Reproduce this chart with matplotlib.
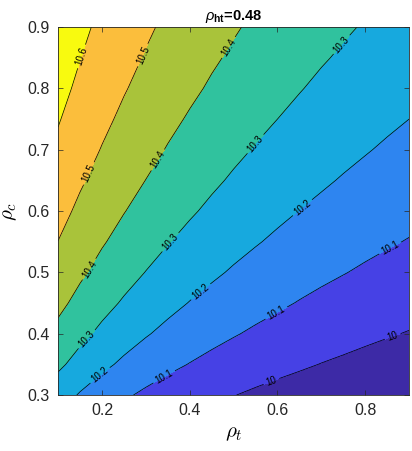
import matplotlib
matplotlib.use('Agg')
import matplotlib.pyplot as plt
import numpy as np

# values
rho_t = [0.1, 0.15, 0.2, 0.25, 0.3, 0.35, 0.4, 0.45, 0.5,
         0.55, 0.6, 0.65, 0.7, 0.75, 0.8, 0.85, 0.9]
rho_c = [0.3, 0.35, 0.4, 0.45, 0.5, 0.55, 0.6, 0.65, 0.7, 0.75, 0.8, 0.85, 0.9]
Z = [
    [10.245, 10.192, 10.149, 10.113, 10.083, 10.058, 10.037, 10.018, 10.002, 9.987, 9.974, 9.962, 9.951, 9.941, 9.932, 9.924, 9.916],
    [10.318, 10.266, 10.221, 10.183, 10.150, 10.121, 10.097, 10.075, 10.056, 10.039, 10.024, 10.011, 9.998, 9.987, 9.976, 9.966, 9.957],
    [10.375, 10.324, 10.280, 10.241, 10.207, 10.177, 10.150, 10.127, 10.106, 10.087, 10.070, 10.055, 10.041, 10.029, 10.017, 10.006, 9.996],
    [10.423, 10.373, 10.329, 10.290, 10.256, 10.225, 10.197, 10.173, 10.151, 10.131, 10.113, 10.096, 10.081, 10.067, 10.054, 10.043, 10.032],
    [10.463, 10.415, 10.371, 10.333, 10.298, 10.267, 10.239, 10.214, 10.191, 10.170, 10.151, 10.133, 10.117, 10.103, 10.089, 10.076, 10.065],
    [10.499, 10.450, 10.408, 10.370, 10.336, 10.304, 10.276, 10.250, 10.227, 10.206, 10.186, 10.168, 10.151, 10.136, 10.121, 10.108, 10.096],
    [10.530, 10.482, 10.440, 10.403, 10.369, 10.338, 10.310, 10.284, 10.260, 10.238, 10.218, 10.199, 10.182, 10.166, 10.151, 10.137, 10.124],
    [10.558, 10.511, 10.469, 10.432, 10.399, 10.368, 10.340, 10.314, 10.290, 10.268, 10.247, 10.228, 10.211, 10.194, 10.179, 10.165, 10.151],
    [10.583, 10.537, 10.496, 10.459, 10.426, 10.395, 10.367, 10.341, 10.317, 10.295, 10.274, 10.255, 10.237, 10.221, 10.205, 10.190, 10.177],
    [10.606, 10.560, 10.520, 10.483, 10.450, 10.420, 10.392, 10.367, 10.343, 10.320, 10.300, 10.280, 10.262, 10.245, 10.229, 10.214, 10.200],
    [10.628, 10.582, 10.542, 10.506, 10.473, 10.443, 10.416, 10.390, 10.366, 10.344, 10.323, 10.304, 10.285, 10.268, 10.252, 10.237, 10.223],
    [10.648, 10.602, 10.562, 10.526, 10.494, 10.464, 10.437, 10.411, 10.388, 10.366, 10.345, 10.325, 10.307, 10.290, 10.273, 10.258, 10.244],
    [10.666, 10.620, 10.581, 10.545, 10.513, 10.484, 10.457, 10.432, 10.408, 10.386, 10.365, 10.346, 10.327, 10.310, 10.294, 10.278, 10.264],
]
levels = [10.0, 10.1, 10.2, 10.3, 10.4, 10.5, 10.6]
fill_levels = [9.8] + levels + [10.8]
band_colors = ['#3d2aa6', '#4641e5', '#2e85f0', '#17a9de',
               '#30c29e', '#a9c33a', '#fbbe3c', '#f8fa0f']

# where the labels sit on the lines
label_pos = [(0.154, 0.852), (0.294, 0.854), (0.171, 0.661),
             (0.488, 0.867), (0.326, 0.684), (0.169, 0.506),
             (0.747, 0.871), (0.549, 0.710), (0.355, 0.550), (0.164, 0.392),
             (0.652, 0.610), (0.422, 0.471), (0.196, 0.332),
             (0.857, 0.539), (0.598, 0.433), (0.344, 0.327),
             (0.863, 0.395), (0.587, 0.321)]

plt.rcParams['font.family'] = ['Liberation Sans', 'DejaVu Sans']
plt.rcParams['mathtext.fontset'] = 'custom'
plt.rcParams['mathtext.rm'] = 'Liberation Sans'
plt.rcParams['mathtext.it'] = 'Liberation Sans:italic'
plt.rcParams['mathtext.bf'] = 'Liberation Sans:bold'

fig = plt.figure(figsize=(4.12, 4.51), dpi=100)
ax = fig.add_axes([0.141, 0.124, 0.852, 0.816])

X, Y = np.meshgrid(rho_t, rho_c)
Z = np.array(Z)
ax.contourf(X, Y, Z, levels=fill_levels, colors=band_colors)
cs = ax.contour(X, Y, Z, levels=levels, colors='k', linewidths=0.5)
ax.clabel(cs, manual=label_pos, inline=True, inline_spacing=3,
          fmt=lambda v: f'{v:g}', fontsize=7)

ax.set_xlim(0.1, 0.9)
ax.set_ylim(0.3, 0.9)
ax.set_xticks([0.2, 0.4, 0.6, 0.8])
ax.set_yticks([0.3, 0.4, 0.5, 0.6, 0.7, 0.8, 0.9])
ax.tick_params(direction='in', top=True, right=True, length=3.5, width=0.5,
               labelsize=11.5, color='#262626', labelcolor='#262626', pad=6)
for s in ax.spines.values():
    s.set_linewidth(0.6)
    s.set_color('#262626')

ax.set_xlabel(r'$\rho_t$', fontsize=15, math_fontfamily='cm', labelpad=4)
ax.set_ylabel(r'$\rho_c$', fontsize=15, math_fontfamily='cm', labelpad=6)
ax.set_title(r'$\rho_{\mathbf{ht}}$=0.48', fontsize=10.5, fontweight='bold',
             math_fontfamily='custom', pad=5)

fig.savefig('out.png', dpi=100)
